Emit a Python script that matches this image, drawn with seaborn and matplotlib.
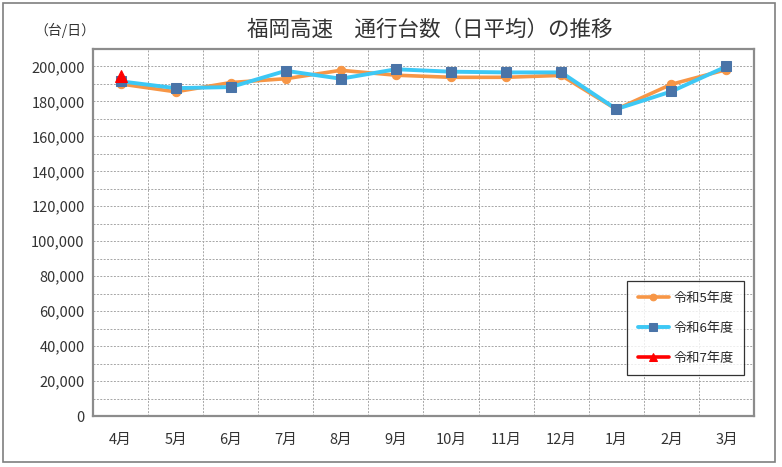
import matplotlib
matplotlib.use("Agg")
import matplotlib.pyplot as plt
import matplotlib.patches as mpatches
from matplotlib.ticker import MultipleLocator, FuncFormatter
import pandas as pd
import seaborn as sns

# ---- data ----
MONTHS = ["4月", "5月", "6月", "7月", "8月", "9月", "10月", "11月", "12月", "1月", "2月", "3月"]
R5 = [190000, 185500, 190800, 193000, 197800, 195000, 193800, 193800, 194900, 175500, 189800, 198200]
R6 = [191500, 187600, 188200, 197500, 193000, 198400, 197000, 196600, 196600, 175600, 185700, 200000]
R7 = [194300]

SERIES = [
    ("令和5年度", R5, dict(color="#F79646", marker="o", ms=6, mfc="#F79646", mec="#F79646", lw=2.6)),
    ("令和6年度", R6, dict(color="#3DC8F5", marker="s", ms=6.5, mfc="#4A74A8", mec="#4A74A8", lw=2.8)),
    ("令和7年度", R7, dict(color="#FF0000", marker="^", ms=8, mfc="#FF0000", mec="#FF0000", lw=2.6)),
]

sns.set_style("white")
plt.rcParams["font.family"] = ["Noto Sans CJK JP", "DejaVu Sans"]

fig = plt.figure(figsize=(7.82, 4.67), dpi=100)
ax = fig.add_axes([0.1189, 0.1092, 0.8453, 0.7859])

for name, vals, st in SERIES:
    df = pd.DataFrame({"month": MONTHS[:len(vals)], "value": vals})
    sns.lineplot(data=df, x="month", y="value", ax=ax, sort=False, label=name,
                 color=st["color"], linewidth=st["lw"], marker=st["marker"],
                 markersize=st["ms"], markerfacecolor=st["mfc"],
                 markeredgecolor=st["mec"], zorder=3 if name != "令和7年度" else 4)

ax.set_xlim(-0.5, len(MONTHS) - 0.5)
ax.set_ylim(0, 210000)
ax.set_xticks(range(len(MONTHS)))
ax.set_xticklabels(MONTHS)
ax.xaxis.set_minor_locator(MultipleLocator(1, offset=0.5))
ax.yaxis.set_major_locator(MultipleLocator(20000))
ax.yaxis.set_minor_locator(MultipleLocator(10000))
ax.yaxis.set_major_formatter(FuncFormatter(lambda v, p: f"{int(v):,}"))
ax.grid(which="minor", axis="x", color="#A6A6A6", linestyle=(0, (2, 1.5)), linewidth=0.7)
ax.grid(which="both", axis="y", color="#A6A6A6", linestyle=(0, (2, 1.5)), linewidth=0.7)
ax.tick_params(axis="both", which="both", length=0, labelsize=10.5, colors="#333333")
ax.tick_params(axis="x", pad=12)
ax.tick_params(axis="y", pad=6)
ax.set_xlabel("")
ax.set_ylabel("")
for sp in ax.spines.values():
    sp.set_color("#8C8C8C")
    sp.set_linewidth(1.6)

leg = ax.legend(loc="upper left", bbox_to_anchor=(627 / 782, 1 - 281 / 467),
                bbox_transform=fig.transFigure, fontsize=9.5, frameon=True,
                fancybox=False, edgecolor="black", labelspacing=1.3,
                handlelength=2.4, handletextpad=0.3, borderpad=0.8, borderaxespad=0,
                markerscale=0.8)
leg.get_frame().set_linewidth(0.9)

fig.text(0.55, 1 - 30 / 467, "福岡高速　通行台数（日平均）の推移", ha="center", va="center",
         fontsize=15.5, color="#333333")
fig.text(34 / 782, 1 - 30 / 467, "（台/日）", ha="left", va="center", fontsize=10, color="#333333")

fig.patches.append(mpatches.Rectangle((3 / 782, 5 / 467), 772 / 782, 459 / 467,
                                      transform=fig.transFigure, fill=False,
                                      edgecolor="#7F7F7F", linewidth=1.2))

fig.savefig("out.png", dpi=100)
